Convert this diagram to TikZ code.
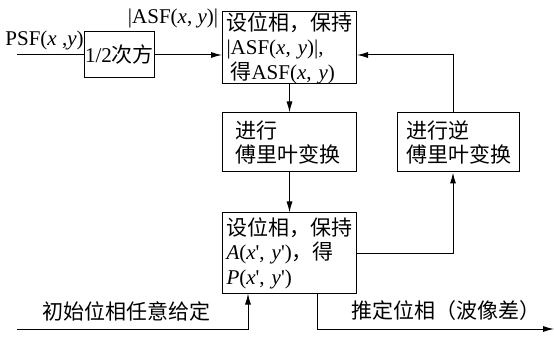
\documentclass[tikz,border=0pt]{standalone}
\usepackage{fontspec}
\setmainfont{Liberation Serif}
\newfontfamily\cjk{Noto Sans CJK SC}
\usetikzlibrary{arrows.meta}

\begin{document}
\begin{tikzpicture}[x=1pt,y=-1pt,
  >={Latex[length=11pt,width=6pt]},
  every path/.style={line width=1pt},
  box/.style={draw,inner xsep=4pt,inner ysep=0pt,align=left,font=\fontsize{21}{24.5}\selectfont},
  lbl/.style={inner sep=0pt,font=\fontsize{21}{24.5}\selectfont}]

\def \wbox {126pt}

\useasboundingbox (0,0) rectangle (554,339);

% boxes
\node (half) [box,align=center,inner xsep=1pt,minimum width=67pt,minimum height=46pt] at (119.5,55) {1/2{\cjk 次方}};
\node (set1) [box,text width=\wbox,minimum height=72pt] at (289.5,48)
  {{\cjk 设位相，保持}\\|ASF(\textit{x}, \textit{y})|,\\\hspace*{4pt}{\cjk 得}ASF(\textit{x}, \textit{y})};
\node (ft) [box,text width=\wbox,minimum height=59pt] at (289.5,142.5)
  {\hspace*{9pt}{\cjk 进行}\\\hspace*{9pt}{\cjk 傅里叶变换}};
\node (set2) [box,text width=\wbox,minimum height=80pt] at (289.5,253)
  {{\cjk 设位相，保持}\\\textit{A}(\textit{x}\textquotesingle, \textit{y}\textquotesingle){\cjk ，得}\\\textit{P}(\textit{x}\textquotesingle, \textit{y}\textquotesingle)};
\node (ift) [box,text width=114pt,minimum height=59pt] at (458.5,142.5)
  {\hspace*{5pt}{\cjk 进行逆}\\\hspace*{5pt}{\cjk 傅里叶变换}};

% labels
\node (psf) [lbl] at (44.5,40) {PSF(\textit{x} ,\textit{y})};
\node (asf) [lbl] at (173,18) {|ASF(\textit{x}, \textit{y})|};
\node (init) [lbl] at (126,311) {\cjk 初始位相任意给定};
\node (est) [lbl] at (446,311) {\cjk 推定位相（波像差）};

% free ends
\coordinate (in) at (17,55);
\coordinate (start) at (17,329);
\coordinate (out) at (554,329);
\coordinate (back) at (453,0);

% connectors
\draw (in) -- (half);
\draw[->] (half) -- (half -| set1.west);
\draw[->] (set1) -- (ft);
\draw[->] (ft) -- (set2);
\draw[->] (set2.east) -| (ift.south -| back);
\draw[->] (ift.north -| back) |- (set1.east |- half);
\draw[->] (start) -| ([xshift=-41.5pt]set2.south);
\draw[->] ([xshift=27.5pt]set2.south) |- (out);

\end{tikzpicture}
\end{document}
